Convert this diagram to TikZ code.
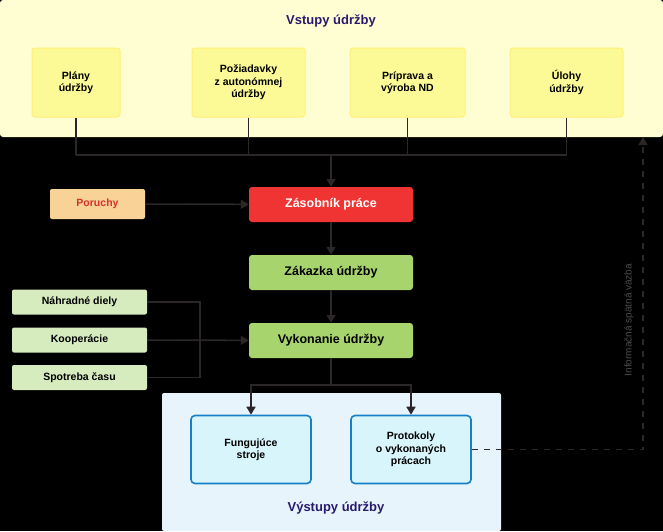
\documentclass[tikz,border=0pt]{standalone}
\usepackage{fontspec}
\setmainfont{Liberation Sans}
\usetikzlibrary{arrows.meta,positioning,calc}
\definecolor{linec}{HTML}{2B2728}
\definecolor{inbg}{HTML}{FEFED2}
\definecolor{inbox}{HTML}{FBFA96}
\definecolor{inbord}{HTML}{FFF07A}
\definecolor{titlec}{HTML}{2A1A6E}
\definecolor{outbg}{HTML}{E8F4FC}
\definecolor{outbox}{HTML}{D8F5FC}
\definecolor{outbord}{HTML}{1580C8}
\definecolor{redbox}{HTML}{F03434}
\definecolor{greenbox}{HTML}{A8D46E}
\definecolor{lgreen}{HTML}{D6EBBE}
\definecolor{orbox}{HTML}{F8D296}
\tikzset{
  inp/.style={draw=inbord, fill=inbox, rounded corners=3pt, line width=1pt, align=center, font=\bfseries\fontsize{10.5}{12.5}\selectfont, minimum width=88pt, minimum height=69pt},
  outp/.style={draw=outbord, fill=outbox, rounded corners=4pt, line width=1.6pt, align=center, font=\bfseries\fontsize{10.5}{12.5}\selectfont, minimum width=120pt, minimum height=68pt},
  proc/.style={rounded corners=3pt, font=\bfseries\fontsize{12.5}{14}\selectfont, minimum width=164pt, minimum height=35pt},
  side/.style={fill=lgreen, rounded corners=2pt, font=\bfseries\fontsize{10.5}{12}\selectfont, minimum width=135pt, minimum height=25pt},
  conn/.style={draw=linec, line width=1.6pt},
  arr/.style={conn, -{Triangle[length=8pt,width=9pt]}},
}
\begin{document}
\begin{tikzpicture}[x=1pt, y=-1pt]
  \fill[black] (0,0) rectangle (663,531);
  \useasboundingbox (0,0) rectangle (663,531);
  % input panel
  \fill[inbg, rounded corners=3pt] (0,0) rectangle (663,137);
  \node[text=titlec, font=\bfseries\fontsize{13}{15}\selectfont] (intitle) at (331,21) {Vstupy údržby};
  \node[inp] (plany) at (76,82.5) {Plány\\údržby};
  \node[inp, minimum width=113pt] (poziad) at (248.5,82.5) {Požiadavky\\z autonómnej\\údržby};
  \node[inp, minimum width=115pt] (priprava) at (407.5,82.5) {Príprava a\\výroba ND};
  \node[inp, minimum width=113pt] (ulohy) at (566.5,82.5) {Úlohy\\údržby};
  % output panel
  \fill[outbg, rounded corners=2pt] (162,393) rectangle (501,531);
  \node[outp] (fung) at (251,449.5) {Fungujúce\\stroje};
  \node[outp] (prot) at (411,449.5) {Protokoly\\o vykonaných\\prácach};
  \node[text=titlec, font=\bfseries\fontsize{13}{15}\selectfont] (outtitle) at (336,508) {Výstupy údržby};
  % process
  \node[proc, fill=redbox, text=white] (zasob) at (331,204.5) {Zásobník práce};
  \node[proc, fill=greenbox] (zakazka) at (331,272.5) {Zákazka údržby};
  \node[proc, fill=greenbox] (vykon) at (331,340.5) {Vykonanie údržby};
  \node[fill=orbox, rounded corners=2pt, text=redbox!90!black, font=\bfseries\fontsize{10.5}{12}\selectfont, minimum width=95pt, minimum height=30pt] (poruchy) at (97.5,204) {Poruchy};
  \node[side] (diely) at (79.5,302) {Náhradné diely};
  \node[side] (koop) at (79.5,340) {Kooperácie};
  \node[side] (spotr) at (79.5,377.5) {Spotreba času};
  % connectors
  \coordinate (bus) at (331,155);
  \foreach \n in {plany,poziad,priprava,ulohy}
    \draw[conn] (\n.south) -- (\n.south |- bus);
  \draw[conn] (plany.south |- bus) -- (ulohy.south |- bus);
  \draw[arr] (bus) -- (zasob.north);
  \draw[arr] (poruchy) -- (zasob);
  \draw[arr] (zasob) -- (zakazka);
  \draw[arr] (zakazka) -- (vykon);
  \draw[conn] (diely.east) -| (200,377.5) -- (spotr.east);
  \draw[arr] (koop) -- (vykon);
  \coordinate (split) at (331,385);
  \draw[conn] (vykon.south) -- (split);
  \draw[arr] (split) -| (fung.north);
  \draw[arr] (split) -| (prot.north);
  \coordinate (fb) at (643,137);
  \draw[linec, line width=1.6pt, dash pattern=on 6pt off 6pt, -{Triangle[length=8pt,width=9pt]}] (prot.east) -| (fb);
  \node[rotate=90, text=gray!60!black, font=\fontsize{10}{12}\selectfont] (fbtext) at (629,320) {Informačná spätná väzba};
\end{tikzpicture}
\end{document}
